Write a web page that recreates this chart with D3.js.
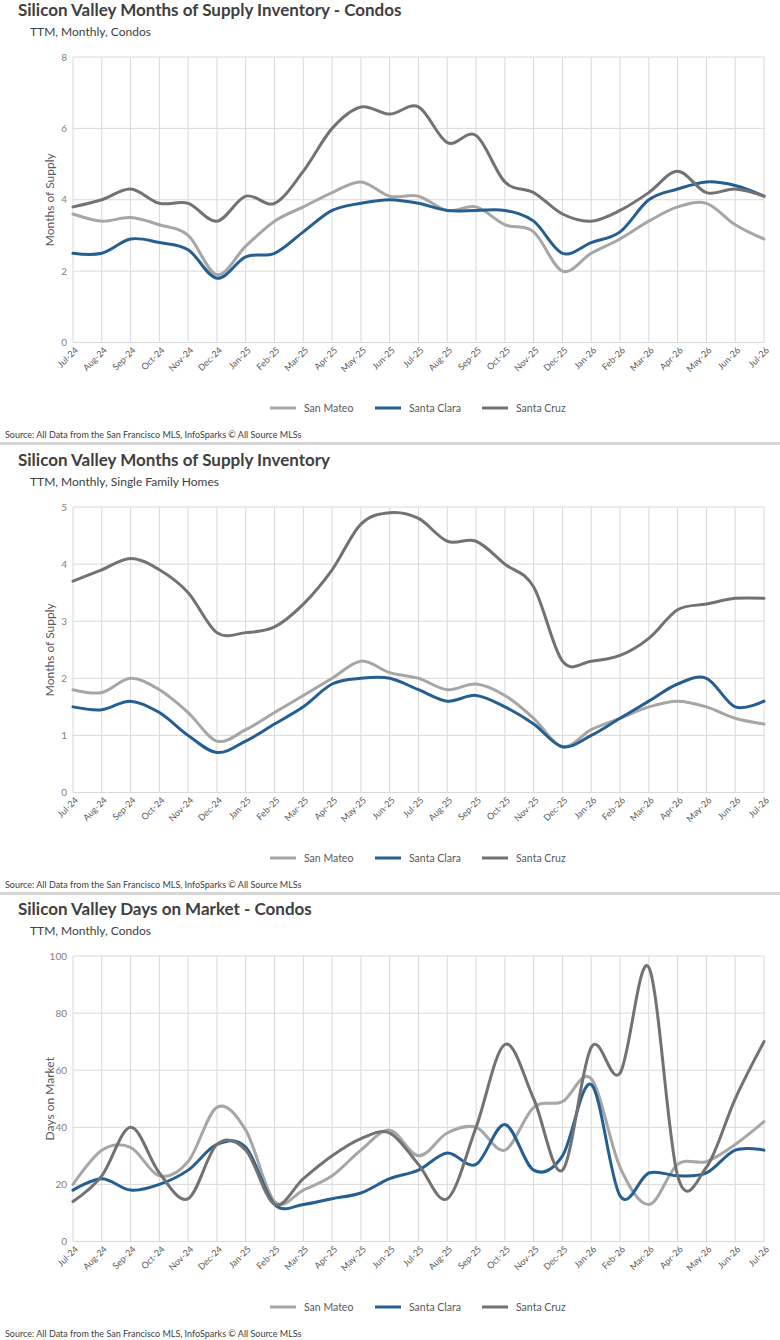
<!DOCTYPE html>
<html>
<head>
<meta charset="utf-8">
<script src="https://cdn.jsdelivr.net/npm/d3@7"></script>
<style>
  body { margin: 0; background: #fff; }
  text { font-family: Lato, "Open Sans", sans-serif; }
</style>
</head>
<body>
<div id="chart"></div>
<script>

// month labels on the x axis
var months = ["Jul-24", "Aug-24", "Sep-24", "Oct-24", "Nov-24", "Dec-24",
  "Jan-25", "Feb-25", "Mar-25", "Apr-25", "May-25", "Jun-25",
  "Jul-25", "Aug-25", "Sep-25", "Oct-25", "Nov-25", "Dec-25",
  "Jan-26", "Feb-26", "Mar-26", "Apr-26", "May-26", "Jun-26", "Jul-26"];

var seriesNames = ["San Mateo", "Santa Clara", "Santa Cruz"];

// Months of supply - condos
var condoSupplySanMateo = [3.6, 3.4, 3.5, 3.3, 3.0, 1.9, 2.7, 3.4, 3.8, 4.2, 4.5, 4.1,
  4.1, 3.7, 3.8, 3.3, 3.1, 2.0, 2.5, 2.9, 3.4, 3.8, 3.9, 3.3, 2.9];
var condoSupplySantaClara = [2.5, 2.5, 2.9, 2.8, 2.6, 1.8, 2.4, 2.5, 3.1, 3.7, 3.9, 4.0,
  3.9, 3.7, 3.7, 3.7, 3.4, 2.5, 2.8, 3.1, 4.0, 4.3, 4.5, 4.4, 4.1];
var condoSupplySantaCruz = [3.8, 4.0, 4.3, 3.9, 3.9, 3.4, 4.1, 3.9, 4.8, 6.0, 6.6, 6.4,
  6.6, 5.6, 5.8, 4.5, 4.2, 3.6, 3.4, 3.7, 4.2, 4.8, 4.2, 4.3, 4.1];
var condoSupplyTicks = [0, 2, 4, 6, 8];

// Months of supply - single family homes
var sfhSupplySanMateo = [1.8, 1.75, 2.0, 1.8, 1.4, 0.9, 1.1, 1.4, 1.7, 2.0, 2.3, 2.1,
  2.0, 1.8, 1.9, 1.7, 1.3, 0.8, 1.1, 1.3, 1.5, 1.6, 1.5, 1.3, 1.2];
var sfhSupplySantaClara = [1.5, 1.45, 1.6, 1.4, 1.0, 0.7, 0.9, 1.2, 1.5, 1.9, 2.0, 2.0,
  1.8, 1.6, 1.7, 1.5, 1.2, 0.8, 1.0, 1.3, 1.6, 1.9, 2.0, 1.5, 1.6];
var sfhSupplySantaCruz = [3.7, 3.9, 4.1, 3.9, 3.5, 2.8, 2.8, 2.9, 3.3, 3.9, 4.7, 4.9,
  4.8, 4.4, 4.4, 4.0, 3.6, 2.3, 2.3, 2.4, 2.7, 3.2, 3.3, 3.4, 3.4];
var sfhSupplyTicks = [0, 1, 2, 3, 4, 5];

// Days on market - condos
var condoDomSanMateo = [20, 32, 33, 23, 28, 47, 39, 14, 18, 23, 32, 39,
  30, 38, 40, 32, 47, 49, 57, 26, 13, 27, 28, 34, 42];
var condoDomSantaClara = [18, 22, 18, 20, 25, 34, 33, 13, 13, 15, 17, 22,
  25, 31, 27, 41, 25, 30, 55, 16, 24, 23, 24, 32, 32];
var condoDomSantaCruz = [14, 23, 40, 24, 15, 34, 32, 13, 22, 30, 36, 38,
  27, 15, 40, 69, 50, 25, 68, 59, 96, 23, 26, 50, 70];
var condoDomTicks = [0, 20, 40, 60, 80, 100];

var colors = ["#a6a6a6", "#255e91", "#727272"];
var sourceText = "Source: All Data from the San Francisco MLS, InfoSparks \u00a9 All Source MLSs";

var svgWidth = 780;
var svgHeight = 1340;

var plotLeft = 73;
var plotRight = 764;
var plotTop = 57;
var plotBottom = 342.5;

var svg = d3.select("#chart")
  .append("svg")
  .attr("width", svgWidth)
  .attr("height", svgHeight);

function drawPanel(offset, title, subtitle, yTitle, ticks, series) {
  var g = svg.append("g")
    .attr("transform", `translate(0, ${offset})`);

  var x = d3.scalePoint()
    .domain(months)
    .range([plotLeft, plotRight]);

  var y = d3.scaleLinear()
    .domain([0, d3.max(ticks)])
    .range([plotBottom, plotTop]);

  // titles
  g.append("text")
    .attr("x", 18)
    .attr("y", 16)
    .attr("font-size", "17px")
    .attr("font-weight", "bold")
    .attr("fill", "#404040")
    .text(title);

  g.append("text")
    .attr("x", 30)
    .attr("y", 36)
    .attr("font-size", "12px")
    .attr("fill", "#404040")
    .text(subtitle);

  // gridlines
  g.append("g")
    .selectAll("line")
    .data(ticks)
    .enter()
    .append("line")
    .attr("x1", plotLeft)
    .attr("x2", plotRight)
    .attr("y1", d => y(d))
    .attr("y2", d => y(d))
    .attr("stroke", "#d9d9d9")
    .attr("stroke-width", 1);

  g.append("g")
    .selectAll("line")
    .data(months)
    .enter()
    .append("line")
    .attr("x1", d => x(d))
    .attr("x2", d => x(d))
    .attr("y1", plotTop)
    .attr("y2", plotBottom)
    .attr("stroke", "#d9d9d9")
    .attr("stroke-width", 1);

  // y axis
  var leftAxis = d3.axisLeft(y)
    .tickValues(ticks)
    .tickFormat(d3.format("d"))
    .tickSize(0)
    .tickPadding(6);

  var yAxis = g.append("g")
    .attr("transform", `translate(${plotLeft}, 0)`)
    .call(leftAxis);
  yAxis.select(".domain").remove();
  yAxis.selectAll("text")
    .attr("font-family", "Lato, sans-serif")
    .attr("font-size", "10px")
    .attr("fill", "#7f7f7f");

  // x axis, rotated labels
  var bottomAxis = d3.axisBottom(x)
    .tickSize(0)
    .tickPadding(0);

  var xAxis = g.append("g")
    .attr("transform", `translate(0, ${plotBottom})`)
    .call(bottomAxis);
  xAxis.select(".domain").remove();
  xAxis.selectAll("text")
    .attr("font-family", "Lato, sans-serif")
    .attr("font-size", "9px")
    .attr("fill", "#595959")
    .attr("text-anchor", "end")
    .attr("dy", "0.35em")
    .attr("transform", "translate(3, 6) rotate(-45)");

  g.append("text")
    .attr("transform", `translate(54, ${(plotTop + plotBottom) / 2}) rotate(-90)`)
    .attr("text-anchor", "middle")
    .attr("font-size", "12px")
    .attr("fill", "#595959")
    .text(yTitle);

  // lines
  var line = d3.line()
    .x((d, i) => x(months[i]))
    .y(d => y(d))
    .curve(d3.curveCardinal.tension(0));

  g.append("g")
    .selectAll("path")
    .data(series)
    .enter()
    .append("path")
    .attr("d", d => line(d))
    .attr("fill", "none")
    .attr("stroke", (d, i) => colors[i])
    .attr("stroke-width", 3)
    .attr("stroke-linecap", "round")
    .attr("stroke-linejoin", "round");

  // legend
  var legendX = [270, 375, 482];
  var legend = g.append("g")
    .selectAll("g")
    .data(seriesNames)
    .enter()
    .append("g")
    .attr("transform", (d, i) => `translate(${legendX[i]}, 408)`);

  legend.append("line")
    .attr("x1", 0)
    .attr("x2", 26)
    .attr("stroke", (d, i) => colors[i])
    .attr("stroke-width", 3);

  legend.append("text")
    .attr("x", 34)
    .attr("dy", "0.35em")
    .attr("font-size", "10.5px")
    .attr("fill", "#595959")
    .text(d => d);

  // source + separator
  g.append("text")
    .attr("x", 5)
    .attr("y", 438)
    .attr("font-size", "9px")
    .attr("fill", "#404040")
    .text(sourceText);

  g.append("rect")
    .attr("x", 0)
    .attr("y", 442)
    .attr("width", svgWidth)
    .attr("height", 3)
    .attr("fill", "#d6d6d6");
}

drawPanel(0, "Silicon Valley Months of Supply Inventory - Condos", "TTM, Monthly, Condos",
  "Months of Supply", condoSupplyTicks,
  [condoSupplySanMateo, condoSupplySantaClara, condoSupplySantaCruz]);

drawPanel(450, "Silicon Valley Months of Supply Inventory", "TTM, Monthly, Single Family Homes",
  "Months of Supply", sfhSupplyTicks,
  [sfhSupplySanMateo, sfhSupplySantaClara, sfhSupplySantaCruz]);

drawPanel(899, "Silicon Valley Days on Market - Condos", "TTM, Monthly, Condos",
  "Days on Market", condoDomTicks,
  [condoDomSanMateo, condoDomSantaClara, condoDomSantaCruz]);

</script>
</body>
</html>
